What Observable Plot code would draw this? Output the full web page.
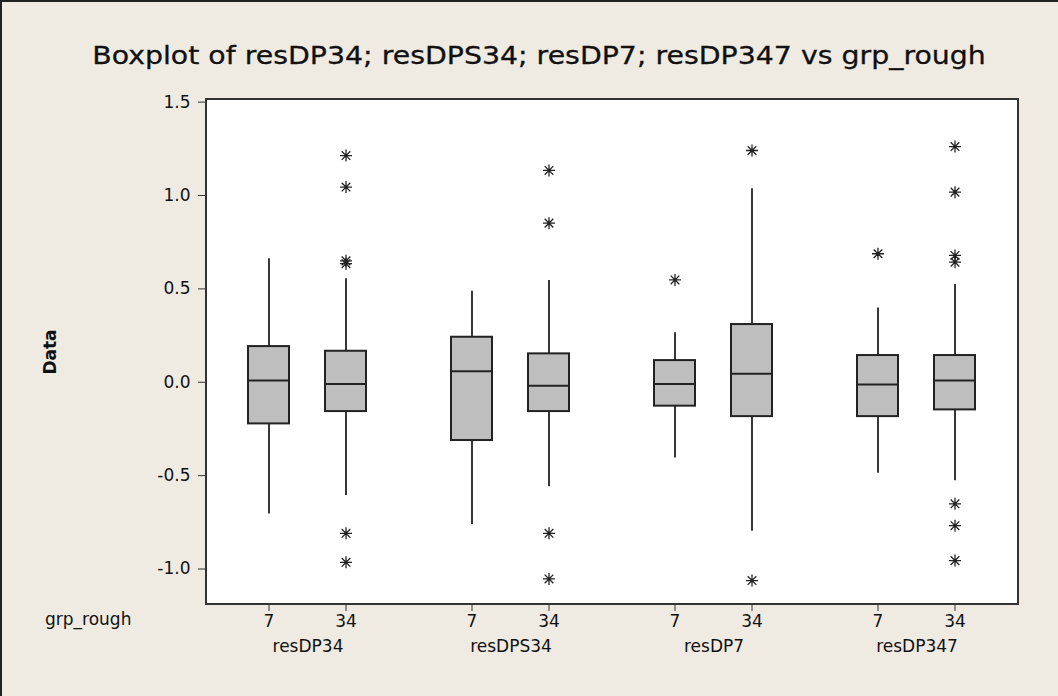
<!DOCTYPE html>
<html><head><meta charset="utf-8">
<script src="https://cdn.jsdelivr.net/npm/d3@7"></script>
<script src="https://cdn.jsdelivr.net/npm/@observablehq/plot@0.6"></script>
<style>
body{margin:0;background:#EFEBE2;width:1058px;height:696px;overflow:hidden;position:relative;font-family:"DejaVu Sans",Verdana,sans-serif;color:#111}
#frame{position:absolute;left:0;top:0;width:1058px;height:696px;border-left:2px solid #222;border-top:2px solid #222;box-sizing:border-box;pointer-events:none;z-index:5}
#title{position:absolute;left:539px;top:41px;font-size:25px;white-space:nowrap;transform:translateX(-50%) scaleX(1.135);transform-origin:50% 50%;-webkit-text-stroke:0.3px #111}
#panel{position:absolute;left:205px;top:98px;width:814px;height:507px;background:#fff;border:2px solid #333;box-sizing:border-box}
#chart{position:absolute;left:0;top:85px}
#grp{position:absolute;left:45px;top:609px;font-size:17px}
#chart svg g[aria-label="y-axis label"] text{font-weight:bold}
</style></head>
<body>
<div id="panel"></div>
<div id="title">Boxplot of resDP34; resDPS34; resDP7; resDP347 vs grp_rough</div>
<div id="chart"></div>
<div id="grp">grp_rough</div>
<div id="frame"></div>
<script>
const groups = ["resDP34", "resDPS34", "resDP7", "resDP347"];
const grps = ["7", "34"];
const whiskerLow  = [[-0.705, -0.607], [-0.762, -0.559], [-0.405, -0.798], [-0.487, -0.527]];
const q1          = [[-0.223, -0.157], [-0.312, -0.157], [-0.128, -0.184], [-0.184, -0.148]];
const median      = [[ 0.009, -0.009], [ 0.059, -0.019], [-0.009,  0.045], [-0.012,  0.009]];
const q3          = [[ 0.191,  0.166], [ 0.241,  0.152], [ 0.116,  0.309], [ 0.143,  0.143]];
const whiskerHigh = [[ 0.661,  0.554], [ 0.487,  0.545], [ 0.265,  1.036], [ 0.398,  0.523]];
const outliers = [
  [[], [1.214, 1.045, 0.650, 0.635, -0.809, -0.964]],
  [[], [1.134, 0.852, -0.809, -1.053]],
  [[0.548], [1.241, -1.062]],
  [[0.688], [1.262, 1.018, 0.679, 0.643, -0.651, -0.768, -0.955]]
];
const yTicks = [-1.0, -0.5, 0.0, 0.5, 1.0, 1.5];

const stats = [];
const outl = [];
groups.forEach((g, i) => grps.forEach((k, j) => {
  stats.push({group: g, grp: k, lo: whiskerLow[i][j], q1: q1[i][j], med: median[i][j], q3: q3[i][j], hi: whiskerHigh[i][j]});
  outliers[i][j].forEach(v => outl.push({group: g, grp: k, v}));
}));

const star = {
  draw(ctx, size) {
    const r = Math.sqrt(size / Math.PI);
    const d = r * 0.72;
    ctx.moveTo(-r, 0); ctx.lineTo(r, 0);
    ctx.moveTo(0, -r); ctx.lineTo(0, r);
    ctx.moveTo(-d, -d); ctx.lineTo(d, d);
    ctx.moveTo(-d, d); ctx.lineTo(d, -d);
  }
};

const chart = Plot.plot({
  width: 1058, height: 611,
  marginLeft: 206, marginRight: 40, marginTop: 14, marginBottom: 92,
  style: {background: "transparent", fontFamily: "'DejaVu Sans', Verdana, sans-serif", fontSize: "17px", color: "#111"},
  fx: {domain: groups, padding: 0},
  x: {domain: grps, paddingInner: 0.467, paddingOuter: 0.55, align: 0.5},
  y: {domain: [-1.19, 1.514]},
  marks: [
    Plot.axisY({ticks: yTicks, tickFormat: d => d.toFixed(1), tickSize: 8, tickPadding: 8, label: "Data", labelAnchor: "center", labelArrow: "none", labelOffset: 163, fontSize: 17, stroke: "#333"}),
    Plot.axisX({tickSize: 7, tickPadding: 3, label: null, fontSize: 17, stroke: "#333"}),
    Plot.axisFx({anchor: "bottom", tickSize: 0, tickPadding: 35, label: null, fontSize: 17}),
    Plot.ruleX(stats, {fx: "group", x: "grp", y1: "lo", y2: "hi", stroke: "#222", strokeWidth: 1.8}),
    Plot.barY(stats, {fx: "group", x: "grp", y1: "q1", y2: "q3", fill: "#BEBEBE", stroke: "#222", strokeWidth: 2}),
    Plot.tickY(stats, {fx: "group", x: "grp", y: "med", stroke: "#222", strokeWidth: 2}),
    Plot.dot(outl, {fx: "group", x: "grp", y: "v", symbol: star, r: 6, stroke: "#222", strokeWidth: 1.3, fill: "none"})
  ]
});
document.getElementById("chart").appendChild(chart);
</script>
</body></html>
